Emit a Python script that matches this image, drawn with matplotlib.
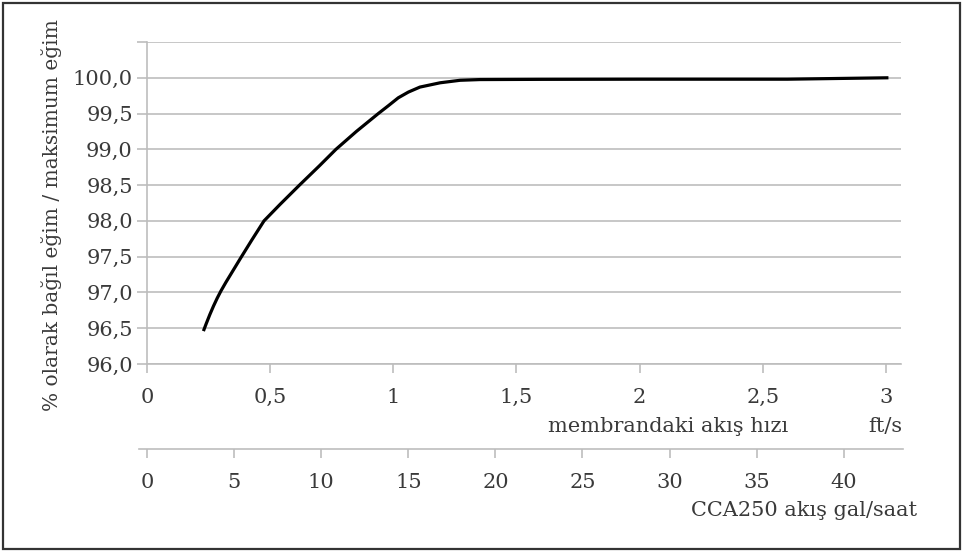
import numpy as np
import matplotlib.pyplot as plt
from matplotlib.patches import Rectangle

# Courbe : pente relative (%) en fonction de la vitesse sur la membrane (ft/s)
vitesse = [0.229, 0.240, 0.255, 0.270, 0.285, 0.300, 0.320, 0.350, 0.380, 0.425,
           0.475, 0.540, 0.619, 0.70, 0.767, 0.85, 0.939, 0.98, 1.02, 1.061,
           1.108, 1.19, 1.271, 1.352, 1.6, 2.0, 2.3, 2.6, 2.8, 3.01]
pente = [96.46, 96.56, 96.69, 96.81, 96.92, 97.02, 97.14, 97.31, 97.48, 97.73,
         98.0, 98.23, 98.5, 98.77, 99.0, 99.25, 99.5, 99.61, 99.72, 99.80,
         99.87, 99.93, 99.965, 99.975, 99.978, 99.98, 99.98, 99.98, 99.99, 100.0]

y_ticks = [96.0, 96.5, 97.0, 97.5, 98.0, 98.5, 99.0, 99.5, 100.0, 100.5]
y_labels = ["96,0", "96,5", "97,0", "97,5", "98,0", "98,5", "99,0", "99,5", "100,0", ""]
x_ticks = [0, 0.5, 1, 1.5, 2, 2.5, 3]
x_labels = ["0", "0,5", "1", "1,5", "2", "2,5", "3"]
gal_ticks = [0, 5, 10, 15, 20, 25, 30, 35, 40]
gal_labels = ["0", "5", "10", "15", "20", "25", "30", "35", "40"]

W, H = 963, 552
txt = "#3a3a3a"
grille = "#bdbdbd"
plt.rcParams['font.family'] = 'DejaVu Serif'
plt.rcParams['font.size'] = 15

fig = plt.figure(figsize=(W / 100, H / 100), dpi=100)

# axe principal
ax = fig.add_axes([147 / W, 1 - 364 / H, (901 - 147) / W, (364 - 42) / H])
ax.plot(vitesse, pente, color="black", lw=2.3, solid_capstyle="butt",
        solid_joinstyle="round")
ax.set_xlim(0, 3.061)
ax.set_ylim(96.0, 100.5)
ax.set_yticks(y_ticks)
ax.set_yticklabels(y_labels)
ax.set_xticks(x_ticks)
ax.set_xticklabels(x_labels)
ax.grid(axis="y", color=grille, lw=1.2)
for s in ["top", "right"]:
    ax.spines[s].set_visible(False)
for s in ["left", "bottom"]:
    ax.spines[s].set_color(grille)
    ax.spines[s].set_linewidth(1.2)
ax.tick_params(axis="y", length=7.2, width=1.2, color=grille, pad=3, labelcolor=txt)
ax.tick_params(axis="x", length=6.5, width=1.2, color=grille, pad=11, labelcolor=txt)
ax.set_axisbelow(True)

# deuxième axe : débit en gal/h
ax2 = fig.add_axes([139 / W, 1 - 449 / H, (903 - 139) / W, 0.0001])
ax2.set_xlim(-0.46, 43.4)
ax2.set_yticks([])
ax2.set_xticks(gal_ticks)
ax2.set_xticklabels(gal_labels)
for s in ["top", "right", "left"]:
    ax2.spines[s].set_visible(False)
ax2.spines["bottom"].set_color(grille)
ax2.spines["bottom"].set_linewidth(1.2)
ax2.tick_params(axis="x", length=6.5, width=1.2, color=grille, pad=11, labelcolor=txt)
ax2.patch.set_visible(False)

# textes
fig.text(668 / W, 1 - 427 / H, "membrandaki akış hızı", ha="center", va="center", color=txt)
fig.text(902 / W, 1 - 427 / H, "ft/s", ha="right", va="center", color=txt)
fig.text(917 / W, 1 - 510 / H, "CCA250 akış gal/saat", ha="right", va="center", color=txt)
fig.text(52 / W, 1 - 215 / H, "% olarak bağıl eğim / maksimum eğim", rotation=90,
         ha="center", va="center", color=txt, fontsize=14.5)

# cadre
fig.patches.append(Rectangle((3 / W, 3 / H), 957 / W, 546 / H, transform=fig.transFigure,
                             fill=False, edgecolor="#333333", lw=1.6))

fig.savefig("out.png", dpi=100)
